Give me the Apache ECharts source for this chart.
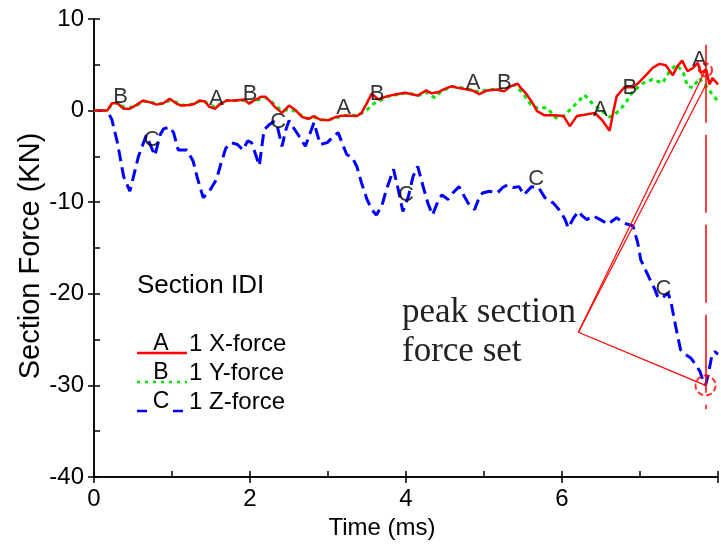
<!DOCTYPE html>
<html>
<head>
<meta charset="utf-8">
<script src="https://cdn.jsdelivr.net/npm/echarts@6/dist/echarts.min.js"></script>
<style>
html, body { margin: 0; padding: 0; background: #fff; }
#chart { width: 721px; height: 548px; }
</style>
</head>
<body>
<div id="chart"></div>
<script>
// curve A: 1 X-force
let xTime = [0, 0.17, 0.23, 0.30, 0.38, 0.46, 0.55, 0.63, 0.72, 0.80, 0.89, 0.97, 1.06, 1.12, 1.23, 1.29, 1.35, 1.42, 1.48, 1.55,
  1.61, 1.70, 1.82, 1.93, 1.99, 2.05, 2.14, 2.20, 2.27, 2.33, 2.41, 2.50, 2.59, 2.67, 2.75, 2.82, 2.90, 3.01, 3.10, 3.18,
  3.26, 3.37, 3.43, 3.50, 3.56, 3.65, 3.75, 3.86, 3.99, 4.09, 4.15, 4.26, 4.32, 4.41, 4.49, 4.58, 4.66, 4.75, 4.85, 4.94,
  5.04, 5.17, 5.26, 5.34, 5.43, 5.47, 5.55, 5.62, 5.68, 5.77, 5.89, 6.02, 6.10, 6.19, 6.29, 6.42, 6.51, 6.61, 6.66, 6.70,
  6.80, 6.91, 6.99, 7.08, 7.16, 7.25, 7.33, 7.42, 7.48, 7.54, 7.61, 7.68, 7.74, 7.78, 7.85, 7.89, 7.93, 8.0];
let xForce = [0, 0, 0.8, 0.8, 0.2, 0.2, 0.65, 1.1, 0.9, 0.65, 0.8, 1.3, 0.75, 0.55, 0.6, 0.75, 1.1, 1.0, 0.4, 0.2,
  0.65, 1.1, 1.1, 1.2, 0.75, 1.1, 1.5, 1.5, 0.9, 0.3, -0.25, 0.55, 0.0, -0.7, -0.9, -0.6, -1.0, -1.05, -0.7, -0.55,
  -0.55, -0.6, -0.25, 0.85, 1.85, 1.2, 1.55, 1.75, 1.95, 1.75, 1.65, 2.2, 1.9, 2.0, 2.35, 2.65, 2.5, 2.35, 2.2, 1.8,
  2.2, 2.3, 2.1, 2.65, 2.95, 2.5, 1.75, 0.85, -0.05, -0.5, -0.5, -0.6, -1.7, -0.6, -0.45, -0.25, -1.0, -2.2, -0.05, 1.55,
  2.55, 2.55, 3.1, 3.9, 4.65, 5.1, 4.95, 3.85, 4.85, 5.45, 4.3, 4.65, 5.2, 4.1, 4.5, 2.85, 3.55, 2.85];

// curve B: 1 Y-force
let yTime = [0, 0.17, 0.23, 0.30, 0.38, 0.46, 0.55, 0.63, 0.72, 0.80, 0.89, 0.97, 1.06, 1.12, 1.23, 1.29, 1.35, 1.42, 1.48, 1.55,
  1.61, 1.70, 1.82, 1.93, 1.99, 2.05, 2.14, 2.20, 2.27, 2.33, 2.41, 2.50, 2.59, 2.67, 2.75, 2.82, 2.90, 3.01, 3.10, 3.18,
  3.26, 3.37, 3.43, 3.50, 3.56, 3.65, 3.75, 3.86, 3.99, 4.09, 4.15, 4.26, 4.37, 4.45, 4.58, 4.66, 4.75, 4.85, 4.94, 5.04,
  5.17, 5.26, 5.34, 5.40, 5.51, 5.60, 5.68, 5.81, 5.92, 6.02, 6.15, 6.29, 6.38, 6.49, 6.61, 6.70, 6.80, 6.91, 7.04, 7.16,
  7.29, 7.38, 7.46, 7.55, 7.61, 7.68, 7.76, 7.85, 7.91, 8.0];
let yForce = [0, 0, 0.7, 0.9, 0.4, 0.3, 0.6, 1.0, 1.0, 0.7, 0.8, 1.1, 0.9, 0.6, 0.65, 0.8, 1.0, 1.0, 0.6, 0.4,
  0.7, 1.1, 1.1, 1.1, 0.9, 1.0, 1.3, 1.4, 1.0, 0.5, 0.0, 0.1, -0.1, -0.6, -0.9, -0.7, -1.0, -1.0, -0.8, -0.6,
  -0.5, -0.5, -0.3, 0.05, 0.65, 1.0, 1.5, 1.7, 1.9, 1.8, 1.6, 2.0, 1.4, 2.1, 2.6, 2.6, 2.4, 2.3, 2.0, 2.3,
  2.3, 2.2, 2.7, 2.8, 1.75, 0.65, 0.3, 0.3, -0.8, -0.6, 0.5, 1.7, 0.85, 0.1, -0.7, -0.25, 0.65, 2.1, 3.0, 3.4,
  3.0, 4.3, 5.0, 4.3, 2.65, 2.5, 3.55, 2.65, 1.95, 1.0];

// curve C: 1 Z-force
let zTime = [0, 0.17, 0.23, 0.30, 0.38, 0.46, 0.57, 0.67, 0.72, 0.78, 0.85, 0.89, 0.97, 1.02, 1.08, 1.19, 1.27, 1.33, 1.40, 1.48,
  1.57, 1.63, 1.69, 1.76, 1.84, 1.91, 1.97, 2.02, 2.08, 2.12, 2.18, 2.25, 2.31, 2.35, 2.41, 2.46, 2.50, 2.56, 2.63, 2.71,
  2.82, 2.90, 2.99, 3.05, 3.13, 3.18, 3.24, 3.31, 3.37, 3.43, 3.50, 3.56, 3.62, 3.69, 3.75, 3.84, 3.90, 3.96, 4.03, 4.09,
  4.15, 4.22, 4.28, 4.34, 4.41, 4.46, 4.54, 4.60, 4.68, 4.75, 4.81, 4.88, 4.92, 4.98, 5.07, 5.17, 5.24, 5.30, 5.38, 5.45,
  5.51, 5.61, 5.70, 5.78, 5.89, 5.98, 6.04, 6.08, 6.15, 6.21, 6.26, 6.32, 6.40, 6.49, 6.59, 6.70, 6.80, 6.91, 6.97, 7.01,
  7.06, 7.12, 7.19, 7.23, 7.29, 7.36, 7.40, 7.44, 7.48, 7.52, 7.58, 7.65, 7.71, 7.77, 7.80, 7.84, 7.88, 7.92, 7.96, 8.0];
let zForce = [0, 0, -1, -3.5, -7.2, -8.8, -5, -2.7, -3.7, -4.9, -2.6, -2.0, -1.8, -2.4, -4.3, -4.3, -5.5, -7.5, -9.5, -8.8,
  -7.5, -5.7, -4.1, -3.5, -3.7, -4.3, -3.3, -3.5, -5.0, -6.0, -2.1, -1.5, -1.2, -1.7, -3.9, -2.1, -1.1, -1.9, -2.8, -3.9,
  -1.3, -3.7, -3.5, -3.0, -2.4, -3.5, -4.8, -5.1, -6.1, -7.9, -9.7, -10.8, -11.4, -10.4, -8.6, -6.4, -8.6, -11, -9.4, -7.2,
  -6.1, -8.3, -10.1, -11.4, -9.9, -9.2, -9.7, -9.0, -8.3, -9.4, -10.3, -10.8, -9.9, -9.0, -8.8, -9.0, -8.4, -8.1, -8.4, -8.3,
  -9.2, -8.3, -8.4, -9.5, -10.1, -11, -11.9, -12.8, -11.7, -11, -11.5, -11.9, -11.5, -11.9, -12.4, -11.7, -12.3, -12.6, -14.4, -16.3,
  -17.2, -18.3, -19.5, -20.4, -20.4, -19.9, -21, -22.8, -24.5, -26.1, -26.6, -27, -27.7, -28.5, -29.3, -30.0, -28.6, -26.8, -26.3, -26.6];

// where the curve letters sit (ms)
let aMarks = [1.57, 3.20, 4.86, 6.49, 7.76];
let bMarks = [0.34, 2.0, 3.63, 5.26, 6.87];
let cMarks = [0.74, 2.36, 4.0, 5.67, 7.3];

// corner of the "peak section force set" pointer (ms, KN)
let noteAnchor = [6.21, -24.2];

let red = '#ff0000';
let green = '#00e600';
let blue = '#0000ff';
let sans = 'Liberation Sans';

function pairs(t, v) {
  return t.map((x, i) => [x, v[i]]);
}

function valueAt(t, v, x) {
  for (let i = 1; i < t.length; i++) {
    if (x <= t[i]) {
      let k = (x - t[i - 1]) / (t[i] - t[i - 1]);
      return v[i - 1] + k * (v[i] - v[i - 1]);
    }
  }
  return v[v.length - 1];
}

function letterSeries(letter, marks, t, v) {
  return {
    type: 'scatter',
    symbolSize: 1,
    itemStyle: {color: 'transparent'},
    silent: true,
    z: 5,
    label: {
      show: true, position: 'inside', offset: [0, -8],
      formatter: letter, color: '#000', fontSize: 22, fontFamily: sans
    },
    data: marks.map(m => [m, valueAt(t, v, m)])
  };
}

// peak is where Z-force is lowest
let peakIdx = zForce.indexOf(Math.min(...zForce));
let tp = zTime[peakIdx];
let zp = zForce[peakIdx];
let xp = valueAt(xTime, xForce, tp);
let yp = valueAt(yTime, yForce, tp);

let chart = echarts.init(document.getElementById('chart'));

let axisLine = {show: true, onZero: false, lineStyle: {color: '#000', width: 1.5}};
let tickStyle = {color: '#000', width: 1.5};

let option = {
  animation: false,
  grid: {left: 94, right: 0, top: 19, bottom: 71},
  xAxis: [
    {
      type: 'value', min: 0, max: 8, interval: 1,
      axisLine: axisLine,
      axisTick: {inside: true, length: 6, lineStyle: tickStyle},
      axisLabel: {
        color: '#000', fontSize: 24, fontFamily: sans, margin: 10,
        formatter: v => (v % 2 === 0 && v < 8) ? String(v) : ''
      },
      splitLine: {show: false},
      name: 'Time (ms)', nameLocation: 'middle', nameGap: 38,
      nameTextStyle: {color: '#000', fontSize: 24, fontFamily: sans, padding: [0, 48, 0, 0]}
    },
    {
      type: 'value', min: 0, max: 8, interval: 2, position: 'bottom',
      axisLine: axisLine,
      axisTick: {inside: false, length: 6, lineStyle: tickStyle},
      axisLabel: {show: false},
      splitLine: {show: false}
    }
  ],
  yAxis: [
    {
      type: 'value', min: -40, max: 10, interval: 10,
      axisLine: axisLine,
      axisTick: {inside: false, length: 6, lineStyle: tickStyle},
      axisLabel: {color: '#000', fontSize: 24, fontFamily: sans, margin: 10},
      splitLine: {show: false},
      name: 'Section Force (KN)', nameLocation: 'middle', nameGap: 49,
      nameMoveOverlap: false,
      nameTextStyle: {color: '#000', fontSize: 29, fontFamily: sans, padding: [0, 16, 0, 0]}
    },
    {
      type: 'value', min: -40, max: 10, interval: 5, position: 'left',
      axisLine: axisLine,
      axisTick: {inside: true, length: 6, lineStyle: tickStyle},
      axisLabel: {show: false},
      splitLine: {show: false}
    }
  ],
  series: [
    {
      name: '1 Z-force', type: 'line', data: pairs(zTime, zForce),
      symbol: 'none', z: 2,
      lineStyle: {color: blue, width: 3, type: [12, 6]},
      markLine: {
        silent: true, symbol: 'none',
        label: {show: false},
        lineStyle: {color: red, width: 1.2, type: 'solid'},
        data: [
          [{coord: [tp, 7.2]}, {coord: [tp, -32.6], lineStyle: {type: [78, 12], width: 1.5}}],
          [{coord: noteAnchor}, {coord: [tp, zp]}],
          [{coord: noteAnchor}, {coord: [tp, xp]}],
          [{coord: noteAnchor}, {coord: [tp, yp]}]
        ]
      }
    },
    {
      name: '1 Y-force', type: 'line', data: pairs(yTime, yForce),
      symbol: 'none', z: 3,
      lineStyle: {color: green, width: 3, type: [4, 4]}
    },
    {
      name: '1 X-force', type: 'line', data: pairs(xTime, xForce),
      symbol: 'none', z: 4,
      lineStyle: {color: red, width: 2.5}
    },
    {
      type: 'scatter', silent: true, z: 6,
      symbol: 'circle',
      itemStyle: {color: 'transparent', borderColor: red, borderWidth: 2, borderType: [6, 3]},
      data: [
        {value: [tp, zp], symbolSize: 20},
        {value: [tp, xp], symbolSize: 13}
      ]
    },
    letterSeries('A', aMarks, xTime, xForce),
    letterSeries('B', bMarks, yTime, yForce),
    letterSeries('C', cMarks, zTime, zForce)
  ],
  graphic: [
    {type: 'text', left: 137, top: 273, style: {text: 'Section IDI', font: '26px "Liberation Sans"', fill: '#000'}},

    {type: 'line', shape: {x1: 137, y1: 353, x2: 187, y2: 353}, style: {stroke: red, lineWidth: 2.5}},
    {type: 'text', x: 161, y: 344, style: {text: 'A', font: '23px "Liberation Sans"', fill: '#000', align: 'center', verticalAlign: 'middle'}},
    {type: 'text', left: 189, top: 332, style: {text: '1 X-force', font: '24px "Liberation Sans"', fill: '#000'}},

    {type: 'line', shape: {x1: 137, y1: 382, x2: 187, y2: 382}, style: {stroke: green, lineWidth: 2.5, lineDash: [3, 5]}},
    {type: 'text', x: 161, y: 373, style: {text: 'B', font: '23px "Liberation Sans"', fill: '#000', align: 'center', verticalAlign: 'middle'}},
    {type: 'text', left: 189, top: 361, style: {text: '1 Y-force', font: '24px "Liberation Sans"', fill: '#000'}},

    {type: 'line', shape: {x1: 137, y1: 411, x2: 187, y2: 411}, style: {stroke: blue, lineWidth: 2.5, lineDash: [10, 26]}},
    {type: 'text', x: 161, y: 402, style: {text: 'C', font: '23px "Liberation Sans"', fill: '#000', align: 'center', verticalAlign: 'middle'}},
    {type: 'text', left: 189, top: 390, style: {text: '1 Z-force', font: '24px "Liberation Sans"', fill: '#000'}},

    {
      type: 'text', left: 402, top: 293,
      style: {text: 'peak section\nforce set', font: '35px "Liberation Serif"', lineHeight: 39, fill: '#222'}
    }
  ]
};

chart.setOption(option);
</script>
</body>
</html>
